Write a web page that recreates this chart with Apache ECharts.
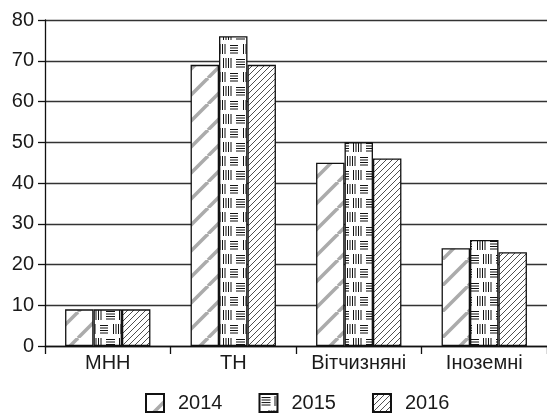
<!DOCTYPE html>
<html lang="uk">
<head>
    <meta charset="UTF-8">
    <title>bar patterns</title>
    <script src="https://cdn.jsdelivr.net/npm/echarts@6/dist/echarts.min.js"></script>
    <style>
        html, body { margin: 0; padding: 0; background: #fff; }
    </style>
</head>
<body>
<div id="my" style="width: 547px; height: 414px;"></div>
<script>
    // дані з малюнка
    var categories = ['МНН', 'ТН', 'Вітчизняні', 'Іноземні']
    var years = ['2014', '2015', '2016']
    var data2014 = [9, 69, 45, 24]
    var data2015 = [9, 76, 50, 26]
    var data2016 = [9, 69, 46, 23]
    var yTicks = [0, 10, 20, 30, 40, 50, 60, 70, 80]

    // штриховки
    function makeTile(w, h, draw) {
        var c = document.createElement('canvas')
        c.width = w
        c.height = h
        var ctx = c.getContext('2d')
        ctx.fillStyle = '#fff'
        ctx.fillRect(0, 0, w, h)
        draw(ctx, w, h)
        return c
    }
    // широкі сірі смуги /
    var tile2014 = makeTile(26, 26, function (ctx, w, h) {
        ctx.strokeStyle = '#ababab'
        ctx.lineWidth = 3.5
        for (var k = -1; k <= 1; k++) {
            ctx.beginPath()
            ctx.moveTo(k * w, h)
            ctx.lineTo(k * w + w, 0)
            ctx.stroke()
        }
    })
    // блоки горизонтальних і вертикальних рисок
    var tile2015 = makeTile(26, 28, function (ctx, w, h) {
        ctx.strokeStyle = '#111'
        ctx.lineWidth = 1
        function hl(x0, y0, len) {
            for (var i = 0; i < 4; i++) {
                ctx.beginPath()
                ctx.moveTo(x0, y0 + i * 2.5 + 0.5)
                ctx.lineTo(x0 + len, y0 + i * 2.5 + 0.5)
                ctx.stroke()
            }
        }
        function vl(x0, y0, len) {
            for (var i = 0; i < 4; i++) {
                ctx.beginPath()
                ctx.moveTo(x0 + i * 2.5 + 0.5, y0)
                ctx.lineTo(x0 + i * 2.5 + 0.5, y0 + len)
                ctx.stroke()
            }
        }
        hl(2, 3, 9)
        vl(15, 2, 10)
        hl(22, 17, 4)
        hl(0, 17, 4)
        vl(9, 16, 10)
    })
    // тонкі чорні лінії /
    var tile2016 = makeTile(6, 6, function (ctx, w, h) {
        ctx.strokeStyle = '#222'
        ctx.lineWidth = 0.8
        for (var k = -1; k <= 1; k++) {
            ctx.beginPath()
            ctx.moveTo(k * w, h)
            ctx.lineTo(k * w + w, 0)
            ctx.stroke()
        }
    })
    var tiles = [tile2014, tile2015, tile2016]
    var values = [data2014, data2015, data2016]

    var mCharts = echarts.init(document.getElementById('my'))
    var series = []
    for (var i = 0; i < years.length; i++) {
        series.push({
            name: years[i],
            type: 'bar',
            data: values[i],
            barGap: '0%',
            barCategoryGap: '32%',
            itemStyle: {
                color: { image: tiles[i], repeat: 'repeat' },
                borderColor: '#111',
                borderWidth: 1.3
            }
        })
    }
    var option = {
        animation: false,
        textStyle: { fontFamily: 'Liberation Sans' },
        legend: {
            data: years,
            icon: 'rect',
            left: 145,
            top: 393,
            padding: 0,
            itemWidth: 18,
            itemHeight: 18,
            itemGap: 36,
            textStyle: { fontSize: 20, color: '#1a1a1a', padding: [0, 0, 0, 9] }
        },
        grid: {
            left: 45,
            top: 20,
            width: 510,
            height: 326
        },
        xAxis: {
            type: 'category',
            data: categories,
            axisLine: { lineStyle: { color: '#111', width: 1.3 } },
            axisTick: { show: true, interval: 0, length: 8, lineStyle: { color: '#111', width: 1.3 } },
            axisLabel: { interval: 0, hideOverlap: false, fontSize: 20, color: '#1a1a1a', margin: 7 }
        },
        yAxis: {
            type: 'value',
            min: yTicks[0],
            max: yTicks[yTicks.length - 1],
            interval: 10,
            axisLine: { show: true, lineStyle: { color: '#111', width: 1.3 } },
            axisTick: { show: true, length: 7, lineStyle: { color: '#111', width: 1.3 } },
            axisLabel: { fontSize: 20, color: '#1a1a1a', margin: 11 },
            splitLine: { lineStyle: { color: '#333', width: 1.3 } }
        },
        series: series
    }
    mCharts.setOption(option)
    window.onresize = mCharts.resize
</script>
</body>
</html>
